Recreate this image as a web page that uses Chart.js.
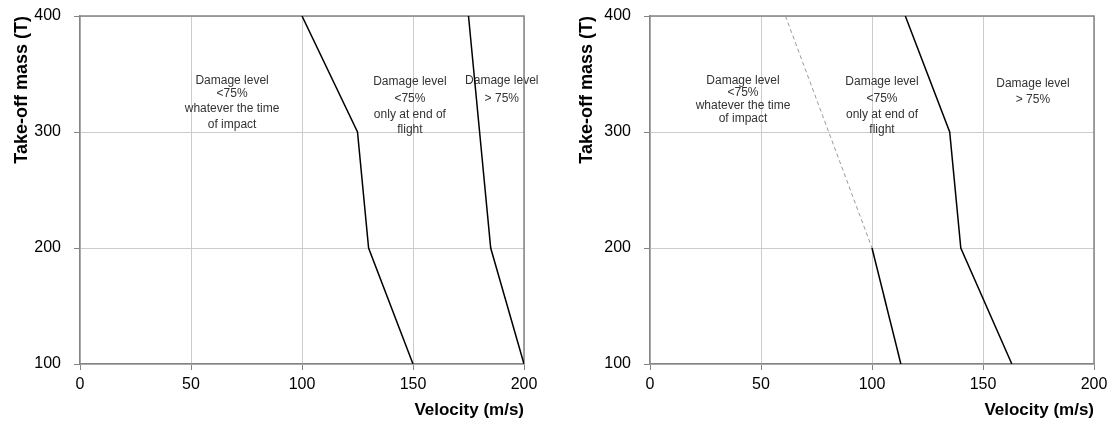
<!DOCTYPE html>
<html><head><meta charset="utf-8">
<script src="https://cdn.jsdelivr.net/npm/chart.js@4/dist/chart.umd.min.js"></script>
<style>
html,body{margin:0;padding:0;background:#fff;}
#wrap{position:relative;width:1114px;height:421px;overflow:hidden;}
.box{position:absolute;top:0;width:557px;height:421px;}
</style></head><body>
<div id="wrap">
  <div class="box" style="left:0"><canvas id="c1" width="557" height="421"></canvas></div>
  <div class="box" style="left:557px"><canvas id="c2" width="557" height="421"></canvas></div>
</div>
<script>
// ---- data ----
const massLevels = [400, 300, 200, 100];            // take-off mass (T)
const leftInnerVelocity = [100, 125, 130, 150];      // m/s, left chart boundary 1
const leftOuterVelocity = [175, 180, 185, 200];      // m/s, left chart boundary 2
const rightDashedMass = [400, 200];
const rightDashedVelocity = [61, 100];
const rightInnerMass = [200, 100];
const rightInnerVelocity = [100, 113];
const rightOuterVelocity = [115, 135, 140, 163];
const velocityTicks = [0, 50, 100, 150, 200];
const massTicks = [100, 200, 300, 400];
const zoneLow = ["Damage level", "<75%", "whatever the time", "of impact"];
const zoneMid = ["Damage level", "<75%", "only at end of", "flight"];
const zoneHigh = ["Damage level", "> 75%"];
const xTitle = "Velocity (m/s)";
const yTitle = "Take-off mass (T)";

const pts = (vs, ms) => vs.map((v, i) => ({x: v, y: ms[i]}));

// annotation anchors (data coordinates), one per text line
const leftNotes = [
  {lines: zoneLow,  x: 68.5, ys: [344.0, 332.8, 319.9, 306.1]},
  {lines: zoneMid,  x: 148.6, ys: [343.1, 328.5, 314.7, 301.7]},
  {lines: zoneHigh, x: 190,  ys: [344.0, 328.5]}
];
const rightNotes = [
  {lines: zoneLow,  x: 41.9, ys: [344.0, 333.6, 322.4, 311.2]},
  {lines: zoneMid,  x: 104.5, ys: [343.1, 328.5, 314.7, 301.7]},
  {lines: zoneHigh, x: 172.5, ys: [341.4, 327.6]}
];

const FONT = '"Liberation Sans", Arial, sans-serif';
const solid = d => ({data: d, showLine: true, borderColor: '#000', borderWidth: 1.5,
  pointRadius: 0, fill: false, tension: 0});

const framePlugin = {
  id: 'frame',
  beforeDatasetsDraw(chart, args, opts) {
    const {ctx, chartArea: a, scales: {x, y}} = chart;
    ctx.save();
    ctx.font = '12px ' + FONT;
    ctx.fillStyle = '#333';
    ctx.textAlign = 'center';
    ctx.textBaseline = 'middle';
    (opts.notes || []).forEach(n => {
      n.lines.forEach((t, i) => ctx.fillText(t, x.getPixelForValue(n.x), y.getPixelForValue(n.ys[i])));
    });
    ctx.strokeStyle = '#858585';
    ctx.lineWidth = 1.5;
    ctx.beginPath();
    ctx.moveTo(a.left, a.top);
    ctx.lineTo(a.right, a.top);
    ctx.lineTo(a.right, a.bottom);
    ctx.stroke();
    ctx.restore();
  }
};

function makeChart(id, datasets, notes, axisW, yTitlePad, rightPad) {
  return new Chart(document.getElementById(id), {
    type: 'scatter',
    data: {datasets},
    plugins: [framePlugin],
    options: {
      responsive: false,
      animation: false,
      events: [],
      layout: {padding: {top: 16, right: rightPad, left: 0, bottom: 0}},
      plugins: {legend: {display: false}, tooltip: {enabled: false}, frame: {notes}},
      scales: {
        x: {
          type: 'linear', min: 0, max: 200,
          afterBuildTicks: s => { s.ticks = velocityTicks.map(v => ({value: v})); },
          afterFit: s => { s.height = 57; },
          ticks: {font: {family: FONT, size: 16}, color: '#000', padding: 5, maxRotation: 0},
          grid: {color: '#cccccc', lineWidth: 1, tickLength: 6, tickColor: '#858585'},
          border: {color: '#858585', width: 1.5},
          title: {display: true, text: xTitle, align: 'end', color: '#000',
            font: {family: FONT, size: 17, weight: 'bold'}, padding: {top: 0, bottom: 0}}
        },
        y: {
          type: 'linear', min: 100, max: 400,
          afterBuildTicks: s => { s.ticks = massTicks.map(v => ({value: v})); },
          afterFit: s => { s.width = axisW; s.paddingTop = 0; s.paddingBottom = 0; },
          ticks: {font: {family: FONT, size: 16}, color: '#000', padding: 13},
          grid: {color: '#cccccc', lineWidth: 1, tickLength: 6, tickColor: '#858585'},
          border: {color: '#858585', width: 1.5},
          title: {display: true, text: yTitle, align: 'end', color: '#000',
            font: {family: FONT, size: 18, weight: 'bold'}, padding: {top: yTitlePad, bottom: 0}}
        }
      }
    }
  });
}

makeChart('c1', [
  solid(pts(leftInnerVelocity, massLevels)),
  solid(pts(leftOuterVelocity, massLevels))
], leftNotes, 80, 11.2, 33);

makeChart('c2', [
  Object.assign(solid(pts(rightDashedVelocity, rightDashedMass)), {borderColor: '#999999', borderWidth: 1, borderDash: [4, 3]}),
  solid(pts(rightInnerVelocity, rightInnerMass)),
  solid(pts(rightOuterVelocity, massLevels))
], rightNotes, 93, 19.2, 20);
</script>
</body></html>
